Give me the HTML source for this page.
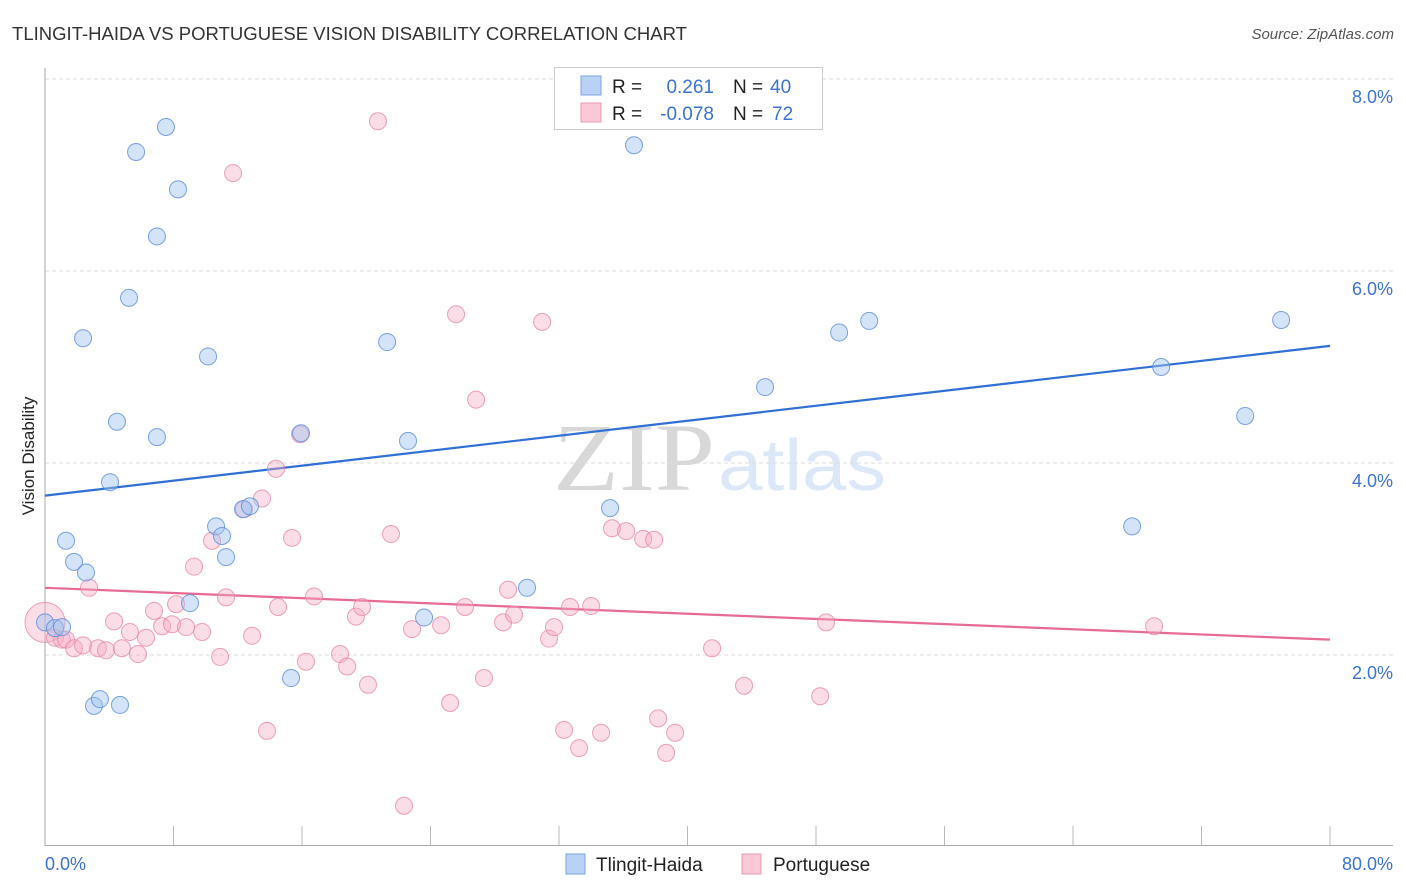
<!DOCTYPE html>
<html><head><meta charset="utf-8"><style>
body{margin:0;background:#fff;font-family:"Liberation Sans",sans-serif}
svg{display:block}
</style></head><body>
<svg id="chart" width="1406" height="892" viewBox="0 0 1406 892">
<text x="12" y="40" font-size="18" fill="#333" textLength="675" lengthAdjust="spacingAndGlyphs">TLINGIT-HAIDA VS PORTUGUESE VISION DISABILITY CORRELATION CHART</text>
<text x="1394" y="39" font-size="15" fill="#555" font-style="italic" text-anchor="end">Source: ZipAtlas.com</text>
<g>
<text x="553" y="490" font-family="Liberation Serif,serif" font-size="96" fill="#d8d8d8" textLength="162" lengthAdjust="spacingAndGlyphs">ZIP</text>
<text x="718" y="490" font-size="72" fill="#dce8f7" textLength="168" lengthAdjust="spacingAndGlyphs">atlas</text>
</g>
<g id="grid"></g>
<g id="axes"></g>
<text transform="translate(34,456) rotate(-90)" font-size="17" fill="#222" text-anchor="middle">Vision Disability</text>
<text x="45" y="870" font-size="18" fill="#3b73d0">0.0%</text>
<text x="1393" y="870" font-size="18" fill="#3b73d0" text-anchor="end">80.0%</text>
<g id="lines"></g>
<g id="points"></g>
<g>
<rect x="554.5" y="67.5" width="268" height="62" fill="#fff" stroke="#ccc"/>
<rect x="581" y="76" width="20" height="19" fill="#b8d2f5" stroke="#7ba6e3"/>
<rect x="581" y="103" width="20" height="19" fill="#fbc8d7" stroke="#ee9ab4"/>
<text x="612" y="93" font-size="19" fill="#222">R =</text>
<text x="714" y="93" font-size="19" fill="#3b73d0" text-anchor="end">0.261</text>
<text x="733" y="93" font-size="19" fill="#222">N =</text>
<text x="770" y="93" font-size="19" fill="#3b73d0">40</text>
<text x="612" y="120" font-size="19" fill="#222">R =</text>
<text x="714" y="120" font-size="19" fill="#3b73d0" text-anchor="end">-0.078</text>
<text x="733" y="120" font-size="19" fill="#222">N =</text>
<text x="772" y="120" font-size="19" fill="#3b73d0">72</text>
</g>
<g>
<rect x="566" y="854" width="19" height="20" fill="#b8d2f5" stroke="#7ba6e3"/>
<text x="596" y="871" font-size="19" fill="#222">Tlingit-Haida</text>
</g>
<g>
<rect x="742" y="854" width="19" height="20" fill="#fbc8d7" stroke="#ee9ab4"/>
<text x="773" y="871" font-size="19" fill="#222">Portuguese</text>
</g>
</svg>
<script>
const yTicks=[2,4,6,8];
const xTickCount=10;
const blueX=[0,0.62,1.06,1.31,1.81,2.37,2.55,3.05,3.42,4.05,4.48,4.67,5.23,5.67,6.97,6.97,7.53,8.28,9.03,10.15,10.65,11.02,11.27,12.33,12.76,15.32,15.94,21.30,22.60,23.60,30.01,35.18,36.67,44.83,49.44,51.31,67.68,69.49,74.72,76.96];
const blueY=[2.34,2.28,2.29,3.19,2.97,5.30,2.86,1.47,1.54,3.80,4.43,1.48,5.72,7.24,6.36,4.27,7.50,6.85,2.54,5.11,3.34,3.24,3.02,3.52,3.55,1.76,4.31,5.26,4.23,2.39,2.70,3.53,7.31,4.79,5.36,5.48,3.34,5.00,4.49,5.49];
const pinkX=[0,0.62,1.06,1.31,1.81,2.37,2.74,3.30,3.80,4.30,4.79,5.29,5.79,6.29,6.79,7.29,7.91,8.16,8.78,9.28,9.78,10.40,10.90,11.27,11.71,12.39,12.89,13.51,13.82,14.38,14.51,15.38,15.88,16.25,16.75,18.37,18.81,19.36,19.74,20.11,20.73,21.54,22.35,22.85,24.66,25.22,25.59,26.15,26.84,27.33,28.52,28.83,29.20,30.95,31.38,31.69,32.32,32.69,33.25,34.00,34.62,35.30,36.18,37.24,37.92,38.17,38.67,39.23,41.53,43.52,48.26,48.63,69.05];
const pinkY=[2.34,2.18,2.16,2.16,2.07,2.10,2.70,2.07,2.05,2.35,2.07,2.24,2.01,2.18,2.46,2.30,2.32,2.53,2.29,2.92,2.24,3.19,1.98,2.60,7.02,3.52,2.20,3.63,1.21,3.94,2.50,3.22,4.30,1.93,2.61,2.01,1.88,2.40,2.50,1.69,7.56,3.26,0.43,2.27,2.31,1.50,5.55,2.50,4.66,1.76,2.34,2.68,2.42,5.47,2.17,2.29,1.22,2.50,1.03,2.51,1.19,3.32,3.29,3.21,3.20,1.34,0.98,1.19,2.07,1.68,1.57,2.34,2.30];
const blueTrend=[3.66,5.22];
const pinkTrend=[2.70,2.16];
const NS='http://www.w3.org/2000/svg';
const xs=v=>45+v/80*1285;
const ys=v=>847-v*96;
function mk(tag,attrs,parent){const e=document.createElementNS(NS,tag);for(const k in attrs)e.setAttribute(k,attrs[k]);parent.appendChild(e);return e;}
const grid=document.getElementById('grid'),axes=document.getElementById('axes');
yTicks.forEach(t=>{
 const l=mk('line',{x1:45,x2:1393,y1:ys(t),y2:ys(t),stroke:'#ddd','stroke-dasharray':'4,3'},grid);
 
 
 const tx=mk('text',{x:1393,y:ys(t)+24,'font-size':18,fill:'#3b73d0','text-anchor':'end'},grid);
 tx.textContent=t.toFixed(1)+'%';
 
 
});
const ya=mk('line',{x1:45,x2:45,y1:68,y2:846,stroke:'#aaa'},axes);


const xa=mk('line',{x1:45,x2:1393,y1:845.5,y2:845.5,stroke:'#aaa'},axes);


for(let i=1;i<=xTickCount;i++){
 const x=xs(i*8);
 const tk=mk('line',{x1:x,x2:x,y1:826,y2:845,stroke:'#bbb'},axes);
 
 
}
const lines=document.getElementById('lines');
const bl=mk('line',{x1:xs(0),y1:ys(blueTrend[0]),x2:xs(80),y2:ys(blueTrend[1]),stroke:'#2f6fd6','stroke-width':2.2},lines);


const pl=mk('line',{x1:xs(0),y1:ys(pinkTrend[0]),x2:xs(80),y2:ys(pinkTrend[1]),stroke:'#e86a97','stroke-width':2.2},lines);


const pts=document.getElementById('points');
pinkX.forEach((v,i)=>{
 const c=mk('circle',{cx:xs(v),cy:ys(pinkY[i]),r:i===0?20:8.5,fill:'rgba(245,170,195,0.4)',stroke:'rgba(232,130,165,0.75)','stroke-width':1},pts);
 
 
});
blueX.forEach((v,i)=>{
 const c=mk('circle',{cx:xs(v),cy:ys(blueY[i]),r:8.5,fill:'rgba(160,195,240,0.45)',stroke:'rgba(90,140,220,0.8)','stroke-width':1},pts);
 
 
});
</script>
</body></html>
